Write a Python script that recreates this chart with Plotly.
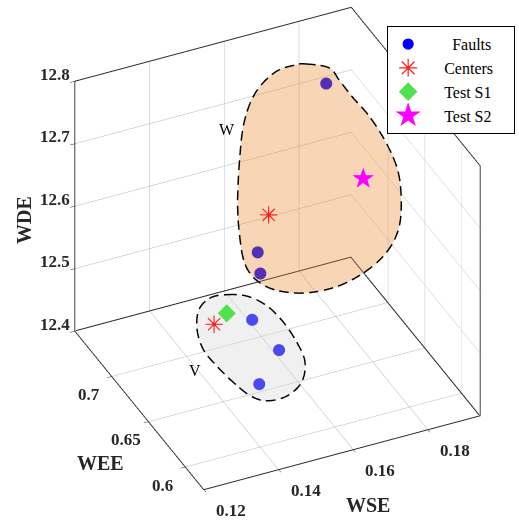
import numpy as np
import plotly.graph_objects as go

# ---------------- data ----------------
WSE_faults = [0.1838, 0.1620, 0.1627, 0.1467, 0.1539, 0.1486]
WEE_faults = [0.7325, 0.7150, 0.7150, 0.6450, 0.6450, 0.6450]
WDE_faults = [12.720, 12.510, 12.475, 12.528, 12.468, 12.422]

WSE_centers = [0.1493, 0.1261]
WEE_centers = [0.6360, 0.5925]
WDE_centers = [12.705, 12.630]

WSE_s1 = [0.1295]
WEE_s1 = [0.5925]
WDE_s1 = [12.642]

WSE_s2 = [0.1695]
WEE_s2 = [0.6100]
WDE_s2 = [12.770]

# cluster region boundaries (data units)
W_wse = [0.1757, 0.1793, 0.1801, 0.1811, 0.1825, 0.1834, 0.1834, 0.1822, 0.1799, 0.1766, 0.1720, 0.1660,
         0.1600, 0.1553, 0.1527, 0.1520, 0.1530, 0.1549, 0.1582, 0.1617, 0.1657, 0.1703, 0.1740]
W_wee = [0.7194, 0.7057, 0.6958, 0.6832, 0.6672, 0.6492, 0.6338, 0.6226, 0.6130, 0.6100, 0.6135, 0.6235,
         0.6385, 0.6555, 0.6695, 0.6816, 0.6935, 0.7061, 0.7203, 0.7316, 0.7360, 0.7325, 0.7243]
W_wde = [12.783, 12.791, 12.784, 12.774, 12.764, 12.747, 12.727, 12.703, 12.673, 12.645, 12.615, 12.583,
         12.559, 12.546, 12.546, 12.556, 12.579, 12.611, 12.654, 12.695, 12.730, 12.760, 12.777]

V_wse = [0.1348, 0.1402, 0.1455, 0.1499, 0.1535, 0.1557, 0.1548, 0.1508, 0.1455, 0.1411, 0.1365, 0.1321,
         0.1285, 0.1268, 0.1273, 0.1304]
V_wee = [0.61875] * 16
V_wde = [12.625, 12.614, 12.590, 12.557, 12.519, 12.484, 12.453, 12.437, 12.438, 12.453, 12.482, 12.515,
         12.547, 12.582, 12.613, 12.627]

W_label = (0.1573, 0.7325, 12.688)
V_label = (0.1244, 0.6100, 12.533)

x_ticks = [0.12, 0.14, 0.16, 0.18]
y_ticks = [0.6, 0.65, 0.7]
z_ticks = [12.4, 12.5, 12.6, 12.7, 12.8]
x_range = [0.11995, 0.194]
y_range = [0.575, 0.75]
z_range = [12.4, 12.8]

legend_names = ["Faults", "Centers", "Test S1", "Test S2"]

FONT = "Liberation Serif"
AX_COL = "#262626"

AZ, EL = np.deg2rad(-25.0), np.deg2rad(35.0)
BOX = 1.1665


def smooth_closed(xs, ys, zs, n=8):
    P = np.column_stack([xs, ys, zs]).astype(float)
    m = len(P)
    out = []
    for i in range(m):
        p0, p1, p2, p3 = P[(i - 1) % m], P[i], P[(i + 1) % m], P[(i + 2) % m]
        for t in np.linspace(0, 1, n, endpoint=False):
            t2, t3 = t * t, t * t * t
            out.append(0.5 * ((2 * p1) + (-p0 + p2) * t + (2 * p0 - 5 * p1 + 4 * p2 - p3) * t2
                              + (-p0 + 3 * p1 - 3 * p2 + p3) * t3))
    out.append(out[0])
    return np.array(out)


E_R = np.array([np.cos(AZ), np.sin(AZ), 0.0])
E_U = np.array([-np.sin(AZ) * np.sin(EL), np.cos(AZ) * np.sin(EL), np.cos(EL)])
SPANS = np.array([x_range[1] - x_range[0], y_range[1] - y_range[0], z_range[1] - z_range[0]])


def dashed(c, dash=0.032, gap=0.017, n_sub=6):
    # split a polyline into dash segments, measured in the projected (screen) plane
    fine = []
    for a, b in zip(c[:-1], c[1:]):
        for t in np.linspace(0, 1, n_sub, endpoint=False):
            fine.append(a + (b - a) * t)
    fine.append(c[-1])
    fine = np.array(fine)
    nrm = fine / SPANS
    scr = np.column_stack([nrm @ E_R, nrm @ E_U])
    s = np.concatenate([[0], np.cumsum(np.hypot(*np.diff(scr, axis=0).T))])
    period = dash + gap
    xs, ys, zs = [], [], []
    on_prev = False
    for p, si in zip(fine, s):
        on = (si % period) < dash
        if on:
            xs.append(p[0]); ys.append(p[1]); zs.append(p[2])
        elif on_prev:
            xs.append(p[0]); ys.append(p[1]); zs.append(p[2])
            xs.append(None); ys.append(None); zs.append(None)
        on_prev = on
    return xs, ys, zs


fig = go.Figure()


def add_region(xs, ys, zs, fill, alpha):
    c = smooth_closed(xs, ys, zs)
    ring = c[:-1]
    cen = ring.mean(axis=0)
    vx = np.append(ring[:, 0], cen[0])
    vy = np.append(ring[:, 1], cen[1])
    vz = np.append(ring[:, 2], cen[2])
    nr = len(ring)
    fig.add_trace(go.Mesh3d(
        x=vx, y=vy, z=vz,
        i=[nr] * nr, j=list(range(nr)), k=[(q + 1) % nr for q in range(nr)],
        color=fill, opacity=alpha, flatshading=True,
        lighting=dict(ambient=1, diffuse=0, specular=0, fresnel=0, roughness=1),
        hoverinfo="skip", showscale=False, showlegend=False))
    dx, dy, dz = dashed(c)
    fig.add_trace(go.Scatter3d(
        x=dx, y=dy, z=dz, mode="lines", connectgaps=False,
        line=dict(color="black", width=3),
        hoverinfo="skip", showlegend=False))


add_region(W_wse, W_wee, W_wde, "rgb(235,135,41)", 0.35)
add_region(V_wse, V_wee, V_wde, "rgb(212,212,212)", 0.35)

# back floor edges of the box (kept a hair inside the clip box)
eps = 0.003 * SPANS
fig.add_trace(go.Scatter3d(
    x=[x_range[0] + eps[0], x_range[1] - eps[0], x_range[1] - eps[0]],
    y=[y_range[1] - eps[1], y_range[1] - eps[1], y_range[0] + eps[1]],
    z=[z_range[0] + eps[2]] * 3, mode="lines", line=dict(color=AX_COL, width=2),
    hoverinfo="skip", showlegend=False))

fig.add_trace(go.Scatter3d(
    x=WSE_faults, y=WEE_faults, z=WDE_faults, mode="markers",
    marker=dict(symbol="circle", size=7, color="rgb(0,0,255)"),
    name="Faults", showlegend=False))
fig.add_trace(go.Scatter3d(
    x=WSE_centers, y=WEE_centers, z=WDE_centers, mode="text", text=["✳"] * len(WSE_centers),
    textposition="middle center",
    textfont=dict(color="rgb(255,30,30)", size=24, family="DejaVu Sans"),
    name="Centers", showlegend=False))
fig.add_trace(go.Scatter3d(
    x=WSE_s1, y=WEE_s1, z=WDE_s1, mode="markers",
    marker=dict(symbol="diamond", size=6, color="rgb(80,225,80)"),
    name="Test S1", showlegend=False))
fig.add_trace(go.Scatter3d(
    x=WSE_s2, y=WEE_s2, z=WDE_s2, mode="text", text=["★"] * len(WSE_s2),
    textposition="middle center",
    textfont=dict(color="rgb(255,0,255)", size=28, family="DejaVu Sans"),
    name="Test S2", showlegend=False))

# legend entries
NB = "\u00a0"
pads = [(6, 4), (4, 4), (4, 4), (4, 4)]
for nm, (pl, pr), sym, sz, col in zip(legend_names, pads,
                                      ["circle", "asterisk-open", "diamond", "star"],
                                      [10, 15, 13, 19],
                                      ["rgb(0,0,255)", "rgb(255,30,30)", "rgb(80,225,80)", "rgb(255,0,255)"]):
    fig.add_trace(go.Scatter(x=[None], y=[None], mode="markers", name=NB * pl + nm + NB * pr,
                             marker=dict(symbol=sym, size=sz, color=col,
                                         line=dict(color=col, width=1.2))))

# camera: orthographic view, nudged so the box sits where the original does
r = 1.6
shift = -0.0497
eye_v = r * np.array([np.sin(AZ) * np.cos(EL), -np.cos(AZ) * np.cos(EL), np.sin(EL)]) + shift * E_U
cen_v = shift * E_U
eye = dict(x=eye_v[0], y=eye_v[1], z=eye_v[2])
center = dict(x=cen_v[0], y=cen_v[1], z=cen_v[2])


def ax3d(rng, tv):
    return dict(
        title=dict(text=""),
        range=rng, autorange=False, tickvals=tv, showticklabels=False,
        showgrid=True, gridcolor="#b4b4b4", gridwidth=1,
        showline=True, linecolor=AX_COL, linewidth=2, mirror=True,
        ticks="outside", ticklen=5, tickcolor=AX_COL,
        showbackground=False, zeroline=False, showspikes=False)


def tick_ann(x, y, z, text, dx, dy):
    return dict(x=x, y=y, z=z, text="<b>%s</b>" % text, showarrow=False,
                xanchor="center", yanchor="middle", xshift=dx, yshift=dy,
                font=dict(family=FONT, size=17, color=AX_COL))


scene_anns = [
    dict(x=W_label[0], y=W_label[1], z=W_label[2], text="W", showarrow=False,
         font=dict(family=FONT, size=16, color="black")),
    dict(x=V_label[0], y=V_label[1], z=V_label[2], text="V", showarrow=False,
         font=dict(family=FONT, size=16, color="black")),
]
scene_anns += [tick_ann(t, y_range[0], z_range[0], "{:g}".format(t), 27, -21) for t in x_ticks]
scene_anns += [tick_ann(x_range[0], t, z_range[0], "{:g}".format(t), -23, -18) for t in y_ticks]
scene_anns += [tick_ann(x_range[0], y_range[1], t, "{:.1f}".format(t), -20, 7) for t in z_ticks]


def title_ann(text, x, y, angle=0):
    return dict(text="<b>%s</b>" % text, textangle=angle, x=x, y=y, xref="paper", yref="paper",
                xanchor="center", yanchor="middle",
                showarrow=False, font=dict(family=FONT, size=20, color=AX_COL))


fig.update_layout(
    width=519, height=523, margin=dict(l=0, r=0, t=0, b=0),
    paper_bgcolor="white", plot_bgcolor="rgba(0,0,0,0)",
    font=dict(family=FONT, color="black"),
    xaxis=dict(visible=False), yaxis=dict(visible=False),
    scene=dict(
        domain=dict(x=[0.07, 1.0], y=[0.0, 1.0]),
        xaxis=ax3d(x_range, x_ticks),
        yaxis=ax3d(y_range, y_ticks),
        zaxis=ax3d(z_range, z_ticks),
        aspectmode="manual", aspectratio=dict(x=BOX, y=BOX, z=BOX),
        camera=dict(eye=eye, up=dict(x=0, y=0, z=1), center=center,
                    projection=dict(type="orthographic")),
        annotations=scene_anns),
    legend=dict(x=0.746, y=0.95, xanchor="left", yanchor="top",
                bgcolor="white", bordercolor="black", borderwidth=1,
                font=dict(family=FONT, size=16, color="black"),
                itemsizing="trace", tracegroupgap=0),
    annotations=[title_ann("WSE", 0.709, 0.034),
                 title_ann("WEE", 0.193, 0.115),
                 title_ann("WDE", 0.046, 0.579, -90)],
    showlegend=True,
)

fig.write_html("out.html")
